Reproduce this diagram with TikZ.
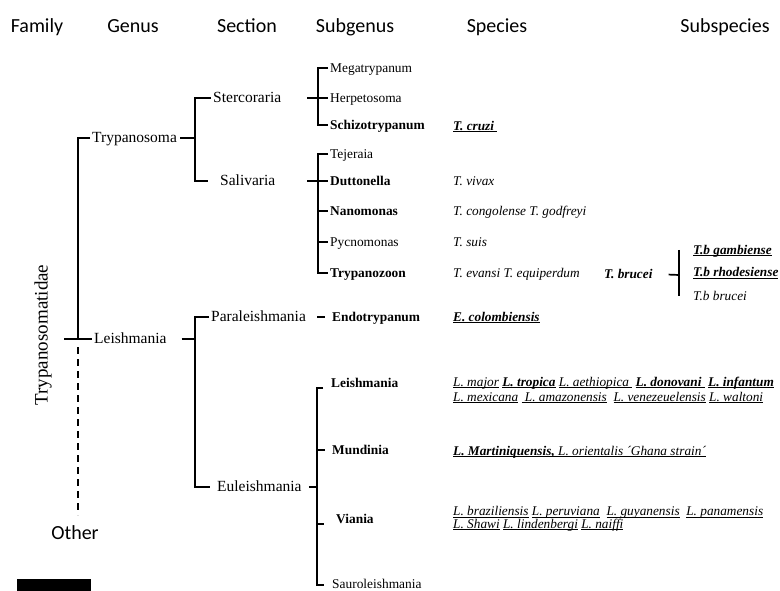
\documentclass[tikz,border=0pt]{standalone}
\usepackage{fontspec}
\setmainfont{Liberation Serif}
\newfontfamily\hdrfont{Carlito}
\newcommand\ulx[1]{\setbox0=\hbox{#1}\rlap{\rule[-1.7pt]{\wd0}{0.55pt}}\box0}
\newcommand\ulb[1]{\setbox0=\hbox{#1}\rlap{\rule[-1.9pt]{\wd0}{0.9pt}}\box0}
\begin{document}
\begin{tikzpicture}[x=1pt,y=-1pt,
  hdr/.style={font=\hdrfont\fontsize{20}{24}\selectfont, anchor=base, inner sep=0pt},
  lbl/.style={anchor=west, inner xsep=2pt, inner ysep=0pt, text height=8.5pt, text depth=0pt},
  gen/.style={lbl, font=\fontsize{15.5}{18}\selectfont},
  sub/.style={lbl, font=\fontsize{13.4}{16}\selectfont},
  subb/.style={lbl, font=\fontsize{13.4}{16}\selectfont\bfseries},
  spc/.style={lbl, font=\fontsize{13.3}{16}\selectfont\itshape},
  spcb/.style={lbl, font=\fontsize{13.3}{16}\selectfont\bfseries\itshape},
  br/.style={line width=1.7pt},
]
\useasboundingbox (0,0) rectangle (780,591);

% headers
\node[hdr] (hFam) at (37,33) {Family};
\node[hdr] (hGen) at (133,33) {Genus};
\node[hdr] (hSec) at (247,33) {Section};
\node[hdr] (hSub) at (355,33) {Subgenus};
\node[hdr] (hSpe) at (497,33) {Species};
\node[hdr] (hSsp) at (725,33) {Subspecies};

% family
\node[rotate=90, font=\fontsize{19}{22}\selectfont, inner sep=0pt] (fam) at (43,335) {Trypanosomatidae};
\node[hdr] (other) at (75,539) {Other};

% genus / section
\node[gen] (gTry) at (90,138) {Trypanosoma};
\node[gen] (gLei) at (92,339) {Leishmania};
\node[gen] (sSte) at (211,98) {Stercoraria};
\node[gen] (sSal) at (218,181) {Salivaria};
\node[gen] (sPar) at (209,317) {Paraleishmania};
\node[gen] (sEul) at (215,487) {Euleishmania};

% subgenus
\node[sub]  (Meg) at (328,68) {Megatrypanum};
\node[sub]  (Her) at (328,98) {Herpetosoma};
\node[subb] (Sch) at (328,125) {Schizotrypanum};
\node[sub]  (Tej) at (328,154) {Tejeraia};
\node[subb] (Dut) at (328,181) {Duttonella};
\node[subb] (Nan) at (328,211) {Nanomonas};
\node[sub]  (Pyc) at (328,242) {Pycnomonas};
\node[subb] (Tpz) at (328,273) {Trypanozoon};
\node[subb] (End) at (330,317) {Endotrypanum};
\node[subb] (LeS) at (329,383) {Leishmania};
\node[subb] (Mun) at (330,450) {Mundinia};
\node[subb] (Via) at (334,519) {Viania};
\node[sub]  (Sau) at (330,584) {Sauroleishmania};

% species
\node[spc] (sp1) at (451,126) {\ulb{\bfseries T. cruzi\ }};
\node[spc] (sp2) at (451,181) {T. vivax};
\node[spc] (sp3) at (451,211) {T. congolense T. godfreyi};
\node[spc] (sp4) at (451,242) {T. suis};
\node[spc] (sp5) at (451,273) {T. evansi T. equiperdum};
\node[spcb] (Tbr) at (602,274) {T. brucei};
\node[spc] (sp6) at (451,317) {\ulb{\bfseries E. colombiensis}};
\node[spc] (sp7a) at (451,381.75) {\ulx{L. major}\ \ulb{\bfseries L. tropica}\ \ulx{L. aethiopica\ }\ \ulb{\bfseries L. donovani\ }\ \ulb{\bfseries L. infantum}};
\node[spc] (sp7b) at (451,396.75) {\ulx{L. mexicana}\ \ulx{\ L. amazonensis}\ \ \ulx{L. venezeuelensis}\ \ulx{L. waltoni}};
\node[spc] (sp8) at (451,450.75) {\ulb{\bfseries L. Martiniquensis,}\ulx{ L. orientalis ´Ghana strain´}};
\node[spc] (sp9a) at (451,511.5) {\ulx{L. braziliensis}\ \ulx{L. peruviana}\ \ \ulx{L. guyanensis}\ \ \ulx{L. panamensis}};
\node[spc] (sp9b) at (451,524) {\ulx{L. Shawi}\ \ulx{L. lindenbergi}\ \ulx{L. naiffi}};

% subspecies
\node[spcb] (ssp1) at (691,250) {\ulb{T.b gambiense}};
\node[spcb] (ssp2) at (691,272.5) {\ulb{T.b rhodesiense}};
\node[spc]  (ssp3) at (691,296) {T.b brucei};

% family connectors
\coordinate (fj) at (78,339);
\coordinate (fs) at (64,339);
\coordinate (fe) at (78,515);
\draw[br] (gTry.west) -| (fj);
\draw[br] (fs) -- (gLei.west);
\draw[br, dash pattern=on 7pt off 5pt] ([yshift=-8pt]fj) -- (fe);

% genus -> section
\coordinate (tj) at (195,138);
\draw[br, shorten <=1pt] (gTry.east) -- (tj);
\draw[br] (sSte.west) -| (tj) |- ([xshift=-10pt]sSal.west);
\coordinate (lj) at (195,339);
\draw[br, shorten <=13pt] (gLei.east) -- (lj);
\draw[br] (sPar.west) -| (lj) |- ([xshift=-5pt]sEul.west);

% section -> subgenus
\coordinate (aj) at (318,98);
\draw[br, shorten <=24pt] (sSte.east) -- (aj);
\draw[br] (Meg.west) -| (aj) |- (Sch.west);
\draw[br] (aj) -- (Her.west);

\coordinate (bj) at (318,181);
\draw[br, shorten <=30pt] (sSal.east) -- (bj);
\draw[br] (Tej.west) -| (bj) |- (Tpz.west);
\draw[br] (bj) -- (Dut.west);
\draw[br] (Nan.west -| bj) -- (Nan.west);
\draw[br] (Pyc.west -| bj) -- (Pyc.west);

\draw[br, shorten <=9pt, shorten >=5pt] (sPar.east) -- (End.west);

\coordinate (ej) at (317,487);
\draw[br, shorten <=5pt] (sEul.east) -- (ej);
\draw[br] ([xshift=-6pt,yshift=-5pt]LeS.west) -| (ej) |- ([xshift=-6pt,yshift=-1pt]Sau.west);
\draw[br] (Mun.west -| ej) -- ([xshift=-5pt]Mun.west);
\coordinate (vt) at ([yshift=-5pt]Via.west);
\draw[br] (vt -| ej) -- ([xshift=-10pt]vt);

% T. brucei -> subspecies
\coordinate (tbj) at (679,275);
\draw[br, shorten <=14pt] (Tbr.east) -- (tbj);
\draw[br] (ssp1.west -| tbj) -- (ssp3.west -| tbj);

% scale block
\fill (17,579) rectangle (91,591);
\end{tikzpicture}
\end{document}
